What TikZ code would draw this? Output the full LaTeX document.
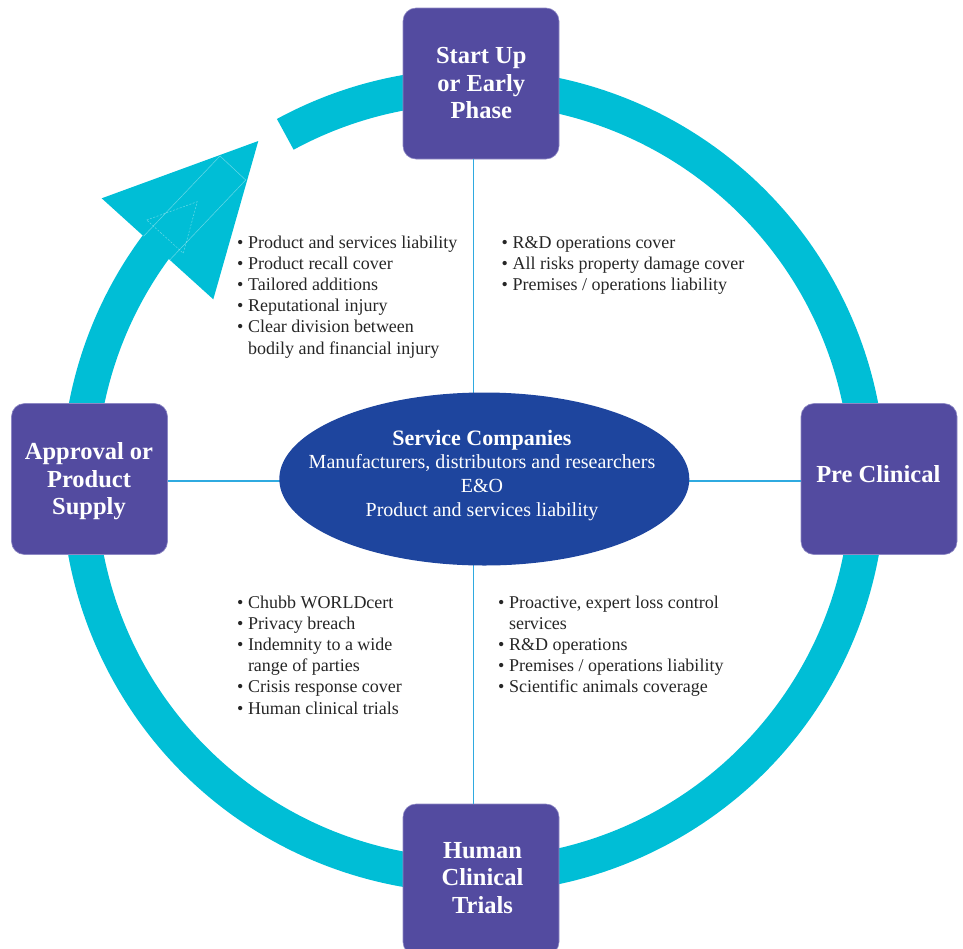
\documentclass[tikz,border=0pt]{standalone}
\usepackage{fontspec}
\setmainfont{Liberation Serif}
\usetikzlibrary{shapes.geometric,calc}
\definecolor{ringc}{HTML}{00BED6}
\definecolor{boxc}{HTML}{534BA0}
\definecolor{boxedge}{HTML}{8D88C4}
\definecolor{ellc}{HTML}{1E459E}
\definecolor{linec}{HTML}{2FAAE0}
\definecolor{txt}{HTML}{262626}
\begin{document}
\begin{tikzpicture}[x=1pt,y=-1pt,
  stagebox/.style={rectangle, rounded corners=13pt, fill=boxc, draw=boxedge, line width=0.6pt, minimum width=156pt, minimum height=151pt, inner sep=0pt},
  stagetext/.style={anchor=base, text=white, inner sep=0pt, font=\fontsize{24.5}{27.6}\selectfont\bfseries},
  bullets/.style={anchor=base west, inner sep=0pt, text=txt, font=\fontsize{18}{21.2}\selectfont},
  link/.style={draw=linec, line width=1.5pt},
  ringfill/.style={fill=ringc},
  ghost/.style={draw=white, draw opacity=0.4, line width=0.5pt},
]
\useasboundingbox (0,0) rectangle (963,948);
\coordinate (C) at (473.5,481);
\coordinate (vx) at (473.5,0);
\coordinate (hy) at (0,481);
\coordinate (tip) at (258.3,141);
\coordinate (ahA) at (101.7,198.3);
\coordinate (ahB) at (213.3,299.3);

% ring with arrow
\fill[ringfill] ($(C)+(-118.5:412)$) arc[start angle=-118.5, end angle=219, radius=412]
  -- ($(C)+(219:377)$) arc[start angle=219, end angle=-118.5, radius=377] -- cycle;
\fill[ringfill] (tip) -- (ahA) -- (ahB) -- cycle;
\begin{scope}
  \clip (tip) -- (ahA) -- (ahB) -- cycle;
  \draw[ghost] (220,156) -- (245.7,180);
  \draw[ghost] (220,156) -- (120,261);
  \draw[ghost] (245.7,180) -- (145,286);
  \draw[ghost, dash pattern=on 2pt off 1.5pt] (146.7,220) -- (197.3,201.7) -- (183.3,253.3) -- cycle;
\end{scope}

% stage boxes
\node[stagebox] (top) at (481,83.5) {};
\node[stagebox] (bot) at (481,879.5) {};
\node[stagebox] (left) at (89.5,479) {};
\node[stagebox] (right) at (879,479) {};

% connectors
\draw[link] (top.south -| vx) -- (bot.north -| vx);
\draw[link] (left.east |- hy) -- (right.west |- hy);

% centre ellipse
\node[ellipse, fill=ellc, minimum width=410pt, minimum height=173pt, inner sep=0pt] (ell) at (484.3,479) {};
\node[anchor=base, inner sep=0pt, text=white, font=\fontsize{20}{23.7}\selectfont] (elltxt) at (482,445)
  {\begin{tabular}[t]{@{}c@{}}{\fontsize{22}{23.7}\selectfont\bfseries Service Companies}\\Manufacturers, distributors and researchers\\E\&O\\Product and services liability\end{tabular}};

% stage texts
\node[stagetext] (toptxt) at (481.3,63.5) {\begin{tabular}[t]{@{}c@{}}Start Up\\or Early\\Phase\end{tabular}};
\node[stagetext] (bottxt) at (482.5,858.3) {\begin{tabular}[t]{@{}c@{}}Human\\Clinical\\Trials\end{tabular}};
\node[stagetext] (lefttxt) at (89,459.5) {\begin{tabular}[t]{@{}c@{}}Approval or\\Product\\Supply\end{tabular}};
\node[stagetext] (righttxt) at (878.3,482.7) {Pre Clinical};

% bullet lists
\node[bullets] (tl) at (237,248) {\begin{tabular}[t]{@{}l@{}}\textbullet\ Product and services liability\\\textbullet\ Product recall cover\\\textbullet\ Tailored additions\\\textbullet\ Reputational injury\\\textbullet\ Clear division between\\\phantom{\textbullet\ }bodily and financial injury\end{tabular}};
\node[bullets] (tr) at (501.5,248) {\begin{tabular}[t]{@{}l@{}}\textbullet\ R\&D operations cover\\\textbullet\ All risks property damage cover\\\textbullet\ Premises / operations liability\end{tabular}};
\node[bullets] (bl) at (237,608) {\begin{tabular}[t]{@{}l@{}}\textbullet\ Chubb WORLDcert\\\textbullet\ Privacy breach\\\textbullet\ Indemnity to a wide\\\phantom{\textbullet\ }range of parties\\\textbullet\ Crisis response cover\\\textbullet\ Human clinical trials\end{tabular}};
\node[bullets] (br) at (498,608) {\begin{tabular}[t]{@{}l@{}}\textbullet\ Proactive, expert loss control\\\phantom{\textbullet\ }services\\\textbullet\ R\&D operations\\\textbullet\ Premises / operations liability\\\textbullet\ Scientific animals coverage\end{tabular}};
\end{tikzpicture}
\end{document}
